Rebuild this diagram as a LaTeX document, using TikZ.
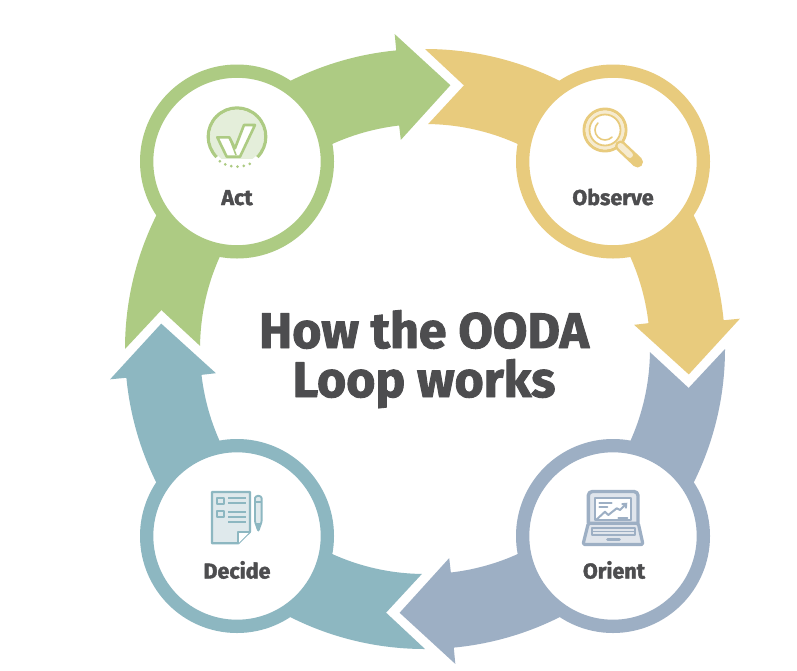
\documentclass[tikz,border=0pt]{standalone}
\usepackage{fontspec}
\setmainfont{Fira Sans}[BoldFeatures={FakeBold=1.8}]
\usetikzlibrary{arrows.meta}
\definecolor{gr}{HTML}{ADCB83}
\definecolor{grl}{HTML}{E4EEDA}
\definecolor{ye}{HTML}{E8CB7D}
\definecolor{yel}{HTML}{F6EBCF}
\definecolor{bl}{HTML}{9DAFC4}
\definecolor{bll}{HTML}{E0E5EC}
\definecolor{te}{HTML}{8DB7C1}
\definecolor{tel}{HTML}{DFE9EC}
\definecolor{ink}{HTML}{4D4D4F}
\newcommand{\oodaarrow}[2]{%
 \pgfmathsetmacro{\aT}{180+#1}\pgfmathsetmacro{\aTi}{180.8+#1}\pgfmathsetmacro{\aN}{188.4+#1}%
 \pgfmathsetmacro{\aO}{264.5+#1}\pgfmathsetmacro{\aI}{263.4+#1}\pgfmathsetmacro{\aP}{275.5+#1}%
 \fill[#2,shift={(425,349)}] (\aT:300) arc[start angle=\aT,end angle=\aO,radius=300]
   -- (\aO:316.4) -- (\aP:265) -- (\aI:210.5) -- (\aI:225)
   arc[start angle=\aI,end angle=\aTi,radius=225] -- (\aN:266.5) -- cycle;}
\tikzset{
 ring/.style={circle,draw=#1,fill=white,line width=13.3pt,minimum size=180.7pt,inner sep=0pt},
 lab/.style={anchor=base,font=\fontsize{21.5}{24}\selectfont\bfseries,text=ink,inner sep=0pt},
 ttl/.style={anchor=base,font=\fontsize{50}{52}\selectfont\bfseries,text=ink,inner sep=0pt},
}
\begin{document}
\begin{tikzpicture}[x=1pt,y=-1pt,line join=round]
\useasboundingbox (0,0) rectangle (797,670);
\fill[white] (0,0) rectangle (797,670);
\oodaarrow{0}{gr}
\oodaarrow{90}{ye}
\oodaarrow{180}{bl}
\oodaarrow{270}{te}
\node[ring=gr] (act) at (237,161.5) {};
\node[ring=ye] (observe) at (613,161.5) {};
\node[ring=bl] (orient) at (613,536) {};
\node[ring=te] (decide) at (237,536) {};
\node[lab] (tact) at (237,205) {Act};
\node[lab] (tobs) at (613,205) {Observe};
\node[lab] (tori) at (614,578.5) {Orient};
\node[lab] (tdec) at (237,578.5) {Decide};
\node[ttl] (t1) at (424,348) {How the OODA};
\node[ttl] (t2) at (424,397) {Loop works};
% Act icon
\fill[grl] (237,136.7) ++(125:27) arc[start angle=125,end angle=415,radius=27] -- cycle;
\draw[gr,line width=3.2pt] (237,136.7) ++(135:28.8) arc[start angle=135,end angle=405,radius=28.8];
\foreach \a in {65,77,89,101,113,125}
  \fill[gr] (237,136.7) ++(\a:30) circle (1.5);
\draw[gr,fill=white,line width=2.6pt] (217.3,137.3) -- (229.3,137.3) -- (235,148.3) -- (244,125) -- (255,125) -- (240,156.7) -- (226.7,156.7) -- cycle;
\draw[gr,line width=1.6pt] (229.3,137.3) -- (236,155);
% Observe icon
\draw[ye,line width=3pt] (605,130) circle (21);
\fill[yel] (605,130) circle (19.4);
\draw[ye,fill=white,line width=1.8pt] (605,130) circle (15.5);
\draw[ye,line width=1.6pt,line cap=round] (605,130) ++(-135:10) arc[start angle=225,end angle=45,radius=10];
\draw[ye,line width=11pt,line cap=round] (620.5,146) -- (637.5,162);
\draw[yel,line width=6pt,line cap=round] (620.5,146) -- (630,155);
\draw[ye,line width=1.6pt] (630.5,160) -- (636.5,154);
% Orient icon
\draw[bl,fill=bll,line width=3.4pt,rounded corners=4pt] (588.3,523.3) -- (588.3,491.5) -- (638,491.5) -- (638,523.3);
\draw[bl,fill=white,line width=1.8pt] (595,498.3) rectangle (630.7,520);
\draw[bl,line width=1.9pt,line cap=round] (599.3,502.7) -- (611.7,502.7) (599.3,506.7) -- (607.3,506.7) (618.3,517.7) -- (627.3,517.7);
\draw[bl,line width=2pt,-{Straight Barb[length=3.5pt,width=6pt]}] (596,520) -- (605,511.7) -- (608.3,515) -- (616.7,508.3) -- (620,510) -- (627.3,502.7);
\draw[bl,fill=bll,line width=3.2pt,rounded corners=1.5pt] (588.3,523.3) -- (638.3,523.3) -- (643,544.5) -- (583,544.5) -- cycle;
\draw[bl,line width=1.8pt] (592,527.7) rectangle (635,535);
\draw[bl,line width=1.4pt] (592,531.3) -- (635,531.3);
\draw[bl,line width=2.8pt,line cap=round] (607.5,539.5) -- (619.5,539.5);
% Decide icon
\draw[te,fill=tel,line width=2.2pt] (212,492) -- (250,492) -- (250,531.7) -- (238.3,543.3) -- (212,543.3) -- cycle;
\draw[te,fill=white,line width=1.8pt] (250,531.7) -- (238.3,531.7) -- (238.3,543.3);
\draw[te,line width=2pt] (217,498.3) rectangle (224,504) (217,511) rectangle (224,516.7);
\draw[te,line width=2pt] (228.3,498.3) -- (245.7,498.3) (228.3,503.3) -- (245.7,503.3) (228.3,511.7) -- (245.7,511.7) (228.3,516.7) -- (245.7,516.7) (228.3,521.7) -- (245.7,521.7);
\draw[te,fill=tel,line width=1.9pt,rounded corners=1pt] (255,521.7) -- (255,499) arc[start angle=180,end angle=360,radius=3.3] -- (261.6,521.7) -- (258.3,531) -- cycle;
\draw[te,line width=1.6pt] (255,502) -- (261.6,502);
\fill[te] (255.5,523) -- (261.1,523) -- (258.3,531.7) -- cycle;
\end{tikzpicture}
\end{document}
